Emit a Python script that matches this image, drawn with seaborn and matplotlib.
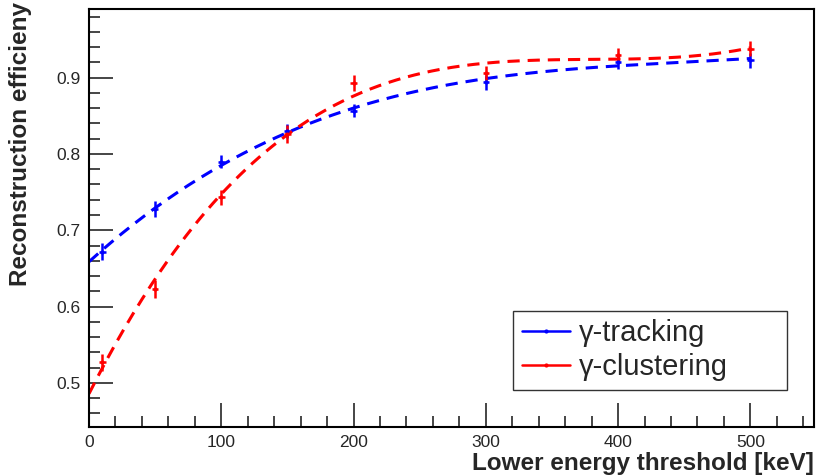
import numpy as np
import pandas as pd
import matplotlib
matplotlib.use("Agg")
import matplotlib.pyplot as plt
from matplotlib.lines import Line2D
from matplotlib.ticker import MultipleLocator, FormatStrFormatter
import seaborn as sns

# thresholds [keV]
thresholds = [10, 50, 100, 150, 200, 300, 400, 500]
# gamma-tracking efficiency and errors
eff_tracking = [0.672, 0.728, 0.790, 0.830, 0.857, 0.894, 0.921, 0.923]
err_tracking = [0.011, 0.010, 0.009, 0.009, 0.008, 0.010, 0.009, 0.010]
# gamma-clustering efficiency and errors
eff_clustering = [0.527, 0.623, 0.743, 0.826, 0.893, 0.906, 0.930, 0.938]
err_clustering = [0.011, 0.012, 0.010, 0.012, 0.010, 0.009, 0.009, 0.010]
xerr = 2.5

series = {
    "γ-tracking": (eff_tracking, err_tracking, "#0000ff"),
    "γ-clustering": (eff_clustering, err_clustering, "#ff0000"),
}

sns.set_style("ticks")
plt.rcParams['font.family'] = ['Liberation Sans', 'DejaVu Sans']

fig = plt.figure(figsize=(8.19, 4.76), dpi=100)
ax = fig.add_axes([0.1087, 0.1029, 0.885, 0.878])

xfit = np.linspace(0, 500, 300)
handles = []
for name, (eff, err, col) in series.items():
    df = pd.DataFrame({"x": thresholds, "y": eff, "e": err})
    # weighted pol3 fit, like the original
    coef = np.polyfit(df.x, df.y, 3, w=1 / df.e)
    fit = pd.DataFrame({"x": xfit, "y": np.polyval(coef, xfit)})
    sns.lineplot(data=fit, x="x", y="y", ax=ax, color=col, lw=2.2,
                 linestyle=(0, (4, 2.6)), legend=False)
    ax.errorbar(df.x, df.y, yerr=df.e, xerr=xerr, fmt="o", ms=2,
                color=col, elinewidth=1.8, capsize=0)
    handles.append(Line2D([], [], color=col, lw=1.8, marker="o", ms=2))

ax.set_xlim(0, 548)
ax.set_ylim(0.442, 0.990)
ax.xaxis.set_major_locator(MultipleLocator(100))
ax.xaxis.set_minor_locator(MultipleLocator(20))
ax.yaxis.set_major_locator(MultipleLocator(0.1))
ax.yaxis.set_minor_locator(MultipleLocator(0.02))
ax.yaxis.set_major_formatter(FormatStrFormatter("%.1f"))
ax.tick_params(which="major", direction="in", length=17, width=1.2,
               labelsize=12.5, pad=6)
ax.tick_params(which="minor", direction="in", length=8, width=1.2)
ax.tick_params(axis="x", which="both", top=False)
ax.tick_params(axis="y", which="both", right=False)
for s in ax.spines.values():
    s.set_linewidth(1.5)
    s.set_color("black")

ax.set_xlabel("Lower energy threshold [keV]", fontsize=17.5, fontweight="bold",
              loc="right", labelpad=1)
ax.set_ylabel("Reconstruction efficieny", fontsize=17.5, fontweight="bold",
              loc="top")
ax.yaxis.set_label_coords(-0.078, 1.017)

leg = ax.legend(handles, list(series.keys()), loc="lower left",
                bbox_to_anchor=(0.585, 0.0885, 0.378, 0.187), mode="expand",
                borderaxespad=0, fontsize=21, frameon=True, fancybox=False,
                handlelength=1.65, borderpad=0.3, labelspacing=0.2,
                handletextpad=0.32)
leg.get_frame().set_edgecolor("black")
leg.get_frame().set_linewidth(1.0)

fig.savefig("out.png", dpi=100)
